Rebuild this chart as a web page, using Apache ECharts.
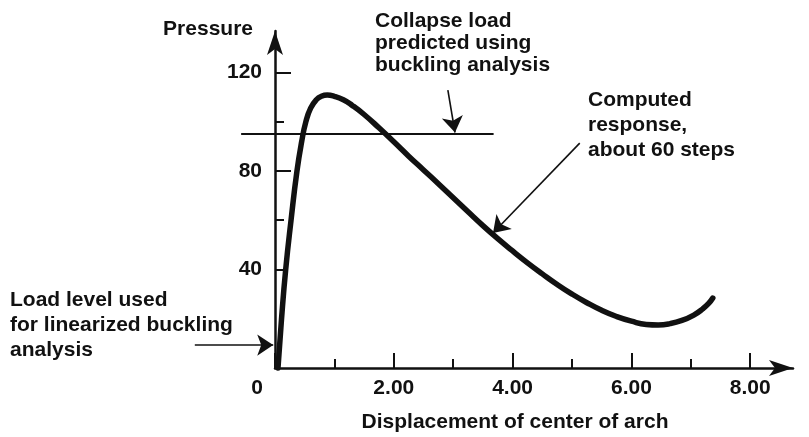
<!DOCTYPE html>
<html>
<head>
<meta charset="utf-8">
<script src="https://cdn.jsdelivr.net/npm/echarts@6/dist/echarts.min.js"></script>
<style>
html,body{margin:0;padding:0;background:#fff;}
#c{width:809px;height:437px;}
</style>
</head>
<body>
<div id="c"></div>
<script>
// ---- data ----
const curveX = [0.05, 0.11, 0.18, 0.27, 0.37, 0.45, 0.52, 0.60, 0.70, 0.78, 0.88, 1.00, 1.15, 1.30, 1.50, 1.75, 2.00, 2.25, 2.50, 2.75, 3.00, 3.25, 3.50, 3.75, 4.00, 4.25, 4.50, 4.75, 5.00, 5.25, 5.50, 5.75, 6.00, 6.25, 6.45, 6.65, 6.85, 7.05, 7.20, 7.30, 7.37];
const curveY = [0, 20, 40, 60, 80, 92, 100, 105.5, 109.0, 110.3, 110.8, 110.3, 108.9, 106.6, 102.9, 97.5, 91.8, 86.0, 80.4, 74.8, 69.1, 63.4, 57.8, 52.5, 47.5, 42.7, 38.2, 33.9, 30.0, 26.5, 23.4, 20.9, 19.0, 17.7, 17.5, 18.0, 19.3, 21.5, 24.0, 26.2, 28.4];
const xTickLabels = [0, 2, 4, 6, 8];
const xMinorTicks = [1, 3, 5, 7];
const yTickLabels = [40, 80, 120];
const yMajorTicks = [80, 120];
const yMinorTicks = [40, 60, 100];
const collapseLine = [[-0.57, 95], [3.68, 95]];
const collapseArrow = [[2.91, 112.8], [3.03, 95.6]];
const computedArrow = [[5.13, 91.3], [3.67, 54.8]];
const loadArrow = [[-1.35, 9.3], [-0.03, 9.3]];

const INK = '#111';
const FONT = 'bold 21px "Liberation Sans", Arial, sans-serif';

const chart = echarts.init(document.getElementById('c'), null, {renderer: 'canvas'});

const xCommon = {type: 'value', min: 0, max: 8.72, position: 'bottom', splitLine: {show: false}};
const yCommon = {type: 'value', min: 0, max: 136.8, position: 'left', splitLine: {show: false}};

chart.setOption({
  animation: false,
  backgroundColor: '#fff',
  grid: {left: 275, right: 16, top: 31, bottom: 69, containLabel: false},
  xAxis: [
    Object.assign({}, xCommon, {
      axisLine: {show: true, lineStyle: {color: INK, width: 2.5}, symbol: ['none', 'arrow'], symbolSize: [12, 24]},
      axisTick: {show: true, inside: true, length: 15, lineStyle: {color: INK, width: 2}, customValues: xTickLabels},
      axisLabel: {show: true, margin: 10, color: INK, fontSize: 21, fontWeight: 'bold', fontFamily: '"Liberation Sans", Arial, sans-serif',
        customValues: xTickLabels,
        formatter: v => v === 0 ? '{z|0}' : v.toFixed(2),
        rich: {z: {padding: [0, 36, 0, 0], fontSize: 21, fontWeight: 'bold', color: INK}}}
    }),
    Object.assign({}, xCommon, {
      axisLine: {show: false},
      axisTick: {show: true, inside: true, length: 9, lineStyle: {color: INK, width: 2}, customValues: xMinorTicks},
      axisLabel: {show: false}
    })
  ],
  yAxis: [
    Object.assign({}, yCommon, {
      axisLine: {show: true, lineStyle: {color: INK, width: 2.5}, symbol: ['none', 'arrow'], symbolSize: [12, 24]},
      axisTick: {show: true, inside: true, length: 16, lineStyle: {color: INK, width: 2}, customValues: yMajorTicks},
      axisLabel: {show: true, margin: 13, color: INK, fontSize: 21, fontWeight: 'bold', fontFamily: '"Liberation Sans", Arial, sans-serif',
        customValues: yTickLabels}
    }),
    Object.assign({}, yCommon, {
      axisLine: {show: false},
      axisTick: {show: true, inside: true, length: 9, lineStyle: {color: INK, width: 2}, customValues: yMinorTicks},
      axisLabel: {show: false}
    })
  ],
  series: [
    {
      type: 'line', xAxisIndex: 0, yAxisIndex: 0,
      data: curveX.map((x, i) => [x, curveY[i]]),
      smooth: 0.5, showSymbol: false, clip: false,
      lineStyle: {color: INK, width: 5.5, cap: 'round', join: 'round'}
    },
    {
      type: 'lines', coordinateSystem: 'cartesian2d', xAxisIndex: 0, yAxisIndex: 0, clip: false,
      symbol: ['none', 'none'],
      lineStyle: {color: INK, width: 1.8, opacity: 1},
      data: [{coords: collapseLine}]
    },
    {
      type: 'lines', coordinateSystem: 'cartesian2d', xAxisIndex: 0, yAxisIndex: 0, clip: false,
      symbol: ['none', 'arrow'], symbolSize: [8, 16],
      lineStyle: {color: INK, width: 1.6, opacity: 1},
      itemStyle: {color: INK},
      data: [{coords: collapseArrow}, {coords: computedArrow}, {coords: loadArrow}]
    }
  ],
  graphic: [
    {type: 'text', style: {text: 'Pressure', x: 253, y: 29, textAlign: 'right', textVerticalAlign: 'middle', font: FONT, fill: INK}},
    {type: 'text', style: {text: 'Displacement of center of arch', x: 515, y: 422, textAlign: 'center', textVerticalAlign: 'middle', font: FONT, fill: INK}},
    {type: 'text', style: {text: 'Collapse load\npredicted using\nbuckling analysis', x: 375, y: 10, lineHeight: 22, textAlign: 'left', textVerticalAlign: 'top', font: FONT, fill: INK}},
    {type: 'text', style: {text: 'Computed\nresponse,\nabout 60 steps', x: 588, y: 88, lineHeight: 25, textAlign: 'left', textVerticalAlign: 'top', font: FONT, fill: INK}},
    {type: 'text', style: {text: 'Load level used\nfor linearized buckling\nanalysis', x: 10, y: 288, lineHeight: 25, textAlign: 'left', textVerticalAlign: 'top', font: FONT, fill: INK}}
  ]
});
</script>
</body>
</html>
